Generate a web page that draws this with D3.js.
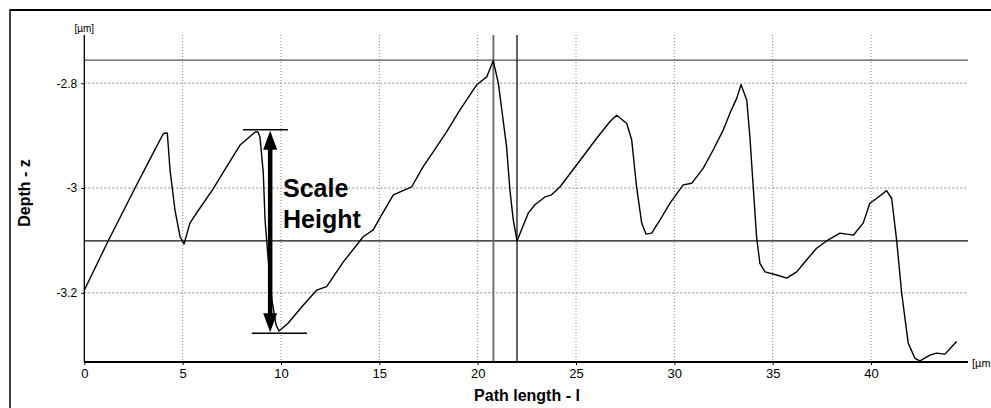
<!DOCTYPE html>
<html>
<head>
<meta charset="utf-8">
<script src="https://cdn.jsdelivr.net/npm/d3@7"></script>
<style>
  body { margin: 0; background: #fff; }
  svg { display: block; font-family: "Liberation Sans", Arial, sans-serif; }
</style>
</head>
<body>
<div id="chart"></div>
<script>
// profile: path length (µm) and depth (µm)
var pathLength = [0, 1.2, 2.58, 3.34, 4.02, 4.22, 4.36, 4.61, 4.87, 5.07, 5.37, 5.63, 6.56, 7.24, 7.92,
  8.69, 8.83, 8.93, 9.1, 9.19, 9.34, 9.54, 9.75, 9.9, 10.36, 11.05, 11.81, 12.32, 13.17, 14.18, 14.69,
  15.03, 15.71, 16.64, 17.23, 17.74, 18.42, 19.1, 19.95, 20.46, 20.79, 21.05, 21.47, 21.64, 21.81, 22.0,
  22.57, 22.91, 23.42, 23.76, 24.18, 25.03, 26.05, 26.73, 27.07, 27.58, 27.83, 28.08, 28.34, 28.56, 28.85,
  29.27, 29.78, 30.45, 30.88, 31.47, 31.98, 32.49, 32.83, 33.17, 33.39, 33.68, 33.84, 34.01, 34.18, 34.35,
  34.61, 35.2, 35.71, 36.22, 36.73, 37.23, 37.74, 38.42, 39.1, 39.6, 39.94, 40.28, 40.79, 41.05, 41.3,
  41.56, 41.89, 42.23, 42.49, 42.99, 43.33, 43.76, 44.1, 44.35];
var depth = [-3.195, -3.102, -3.0, -2.945, -2.896, -2.895, -2.966, -3.042, -3.093, -3.107, -3.067, -3.052, -3.001, -2.959, -2.918,
  -2.893, -2.893, -2.902, -2.971, -3.061, -3.131, -3.214, -3.261, -3.273, -3.258, -3.227, -3.195, -3.188, -3.141, -3.093, -3.08,
  -3.057, -3.013, -2.998, -2.959, -2.931, -2.893, -2.851, -2.803, -2.788, -2.757, -2.8, -2.921, -3.004, -3.061, -3.101,
  -3.048, -3.032, -3.017, -3.013, -2.998, -2.956, -2.905, -2.873, -2.861, -2.877, -2.908, -2.998, -3.067, -3.088, -3.086,
  -3.061, -3.029, -2.994, -2.991, -2.962, -2.927, -2.889, -2.857, -2.829, -2.803, -2.832, -2.902, -2.998, -3.093, -3.144,
  -3.16, -3.166, -3.172, -3.16, -3.137, -3.115, -3.101, -3.086, -3.09, -3.067, -3.029, -3.02, -3.005, -3.02, -3.099,
  -3.201, -3.296, -3.325, -3.33, -3.319, -3.315, -3.317, -3.303, -3.293];

var xTicks = [0, 5, 10, 15, 20, 25, 30, 35, 40];
var yTicks = [-2.8, -3, -3.2];

// cursor lines of the profiler
var refDepth = [-2.756, -3.101];
var refPath = [20.8, 22.0];

// scale height marker
var markTop = {depth: -2.889, from: 8.07, to: 10.35};
var markBottom = {depth: -3.277, from: 8.52, to: 11.32};
var arrowAt = 9.45;

!(function (d3) {

var W = 991, H = 408;
var pLeft = 84.3, pRight = 968, pTop = 35, pBottom = 362;

var svg = d3.select("#chart").append("svg")
    .attr("width", W)
    .attr("height", H);

var x = d3.scaleLinear().domain([0, 44.93]).range([pLeft, pRight]),
    y = d3.scaleLinear().domain([-3.332, -2.708]).range([pBottom, pTop]);

// frame (only top and left show)
svg.append("line").attr("x1", 10).attr("x2", W).attr("y1", 10).attr("y2", 10)
    .attr("stroke", "#000").attr("stroke-width", 2);
svg.append("line").attr("x1", 10).attr("x2", 10).attr("y1", 9).attr("y2", H)
    .attr("stroke", "#000").attr("stroke-width", 1.5);

// grid
svg.append("g").selectAll("line")
    .data(xTicks.slice(1))
  .enter().append("line")
    .attr("x1", function(d) { return x(d); })
    .attr("x2", function(d) { return x(d); })
    .attr("y1", pTop).attr("y2", pBottom)
    .attr("stroke", "#888").attr("stroke-width", 1).attr("stroke-dasharray", "1,2");

svg.append("g").selectAll("line")
    .data(yTicks)
  .enter().append("line")
    .attr("x1", pLeft).attr("x2", pRight)
    .attr("y1", function(d) { return y(d); })
    .attr("y2", function(d) { return y(d); })
    .attr("stroke", "#888").attr("stroke-width", 1).attr("stroke-dasharray", "2,2");

// cursors
svg.append("line").attr("x1", pLeft).attr("x2", pRight)
    .attr("y1", y(refDepth[0])).attr("y2", y(refDepth[0]))
    .attr("stroke", "#555").attr("stroke-width", 1.3);
svg.append("line").attr("x1", pLeft).attr("x2", pRight)
    .attr("y1", y(refDepth[1])).attr("y2", y(refDepth[1]))
    .attr("stroke", "#111").attr("stroke-width", 1.3);
svg.append("line").attr("x1", x(refPath[0])).attr("x2", x(refPath[0]))
    .attr("y1", pTop).attr("y2", pBottom)
    .attr("stroke", "#666").attr("stroke-width", 1.8);
svg.append("line").attr("x1", x(refPath[1])).attr("x2", x(refPath[1]))
    .attr("y1", pTop).attr("y2", pBottom)
    .attr("stroke", "#111").attr("stroke-width", 1.3);

// axes
var yAxis = svg.append("g")
    .attr("transform", "translate(" + pLeft + ",0)")
    .call(d3.axisLeft(y).tickValues(yTicks).tickSize(3).tickPadding(4)
      .tickFormat(function(d) { return String(d); }));
yAxis.select(".domain").remove();
yAxis.selectAll("text").attr("font-size", 12).attr("font-family", "Liberation Sans, Arial, sans-serif");

svg.append("line").attr("x1", pLeft).attr("x2", pLeft).attr("y1", pTop).attr("y2", pBottom)
    .attr("stroke", "#000").attr("stroke-width", 1.3);

var xAxis = svg.append("g")
    .attr("transform", "translate(0," + pBottom + ")")
    .call(d3.axisBottom(x).tickValues(xTicks).tickSize(3).tickPadding(4));
xAxis.select(".domain").remove();
xAxis.selectAll("text").attr("font-size", 13).attr("font-family", "Liberation Sans, Arial, sans-serif");

svg.append("line").attr("x1", pLeft).attr("x2", pRight).attr("y1", pBottom).attr("y2", pBottom)
    .attr("stroke", "#000").attr("stroke-width", 2);

// units
svg.append("text").attr("x", pLeft).attr("y", 32).attr("text-anchor", "middle")
    .attr("font-size", 10).text("[µm]");
svg.append("text").attr("x", 972).attr("y", pBottom + 5)
    .attr("font-size", 11).text("[µm");

// axis titles
svg.append("text").attr("x", 527).attr("y", 401).attr("text-anchor", "middle")
    .attr("font-size", 16).attr("font-weight", "bold").text("Path length - l");
svg.append("text").attr("transform", "translate(30,193) rotate(-90)")
    .attr("text-anchor", "middle")
    .attr("font-size", 16).attr("font-weight", "bold").text("Depth - z");

// profile
var line = d3.line()
    .x(function(d) { return x(d[0]); })
    .y(function(d) { return y(d[1]); });

svg.append("path")
    .datum(d3.zip(pathLength, depth))
    .attr("fill", "none")
    .attr("stroke", "#000")
    .attr("stroke-width", 1.4)
    .attr("stroke-linejoin", "round")
    .attr("d", line);

// scale height annotation
svg.append("line").attr("x1", x(markTop.from)).attr("x2", x(markTop.to))
    .attr("y1", y(markTop.depth)).attr("y2", y(markTop.depth))
    .attr("stroke", "#000").attr("stroke-width", 1.5);
svg.append("line").attr("x1", x(markBottom.from)).attr("x2", x(markBottom.to))
    .attr("y1", y(markBottom.depth)).attr("y2", y(markBottom.depth))
    .attr("stroke", "#000").attr("stroke-width", 1.5);

var ax = x(arrowAt), ay1 = y(markTop.depth), ay2 = y(markBottom.depth);
svg.append("line").attr("x1", ax).attr("x2", ax)
    .attr("y1", ay1 + 16).attr("y2", ay2 - 16)
    .attr("stroke", "#000").attr("stroke-width", 4.5);
svg.append("path")
    .attr("d", "M" + ax + "," + (ay1 + 1) + "L" + (ax - 7) + "," + (ay1 + 20) + "L" + (ax + 7) + "," + (ay1 + 20) + "Z")
    .attr("fill", "#000");
svg.append("path")
    .attr("d", "M" + ax + "," + (ay2 - 1) + "L" + (ax - 7) + "," + (ay2 - 20) + "L" + (ax + 7) + "," + (ay2 - 20) + "Z")
    .attr("fill", "#000");

svg.append("text").attr("x", 283).attr("y", 197)
    .attr("font-size", 25).attr("font-weight", "bold").text("Scale");
svg.append("text").attr("x", 283).attr("y", 228)
    .attr("font-size", 25).attr("font-weight", "bold").text("Height");

})(d3);
</script>
</body>
</html>
